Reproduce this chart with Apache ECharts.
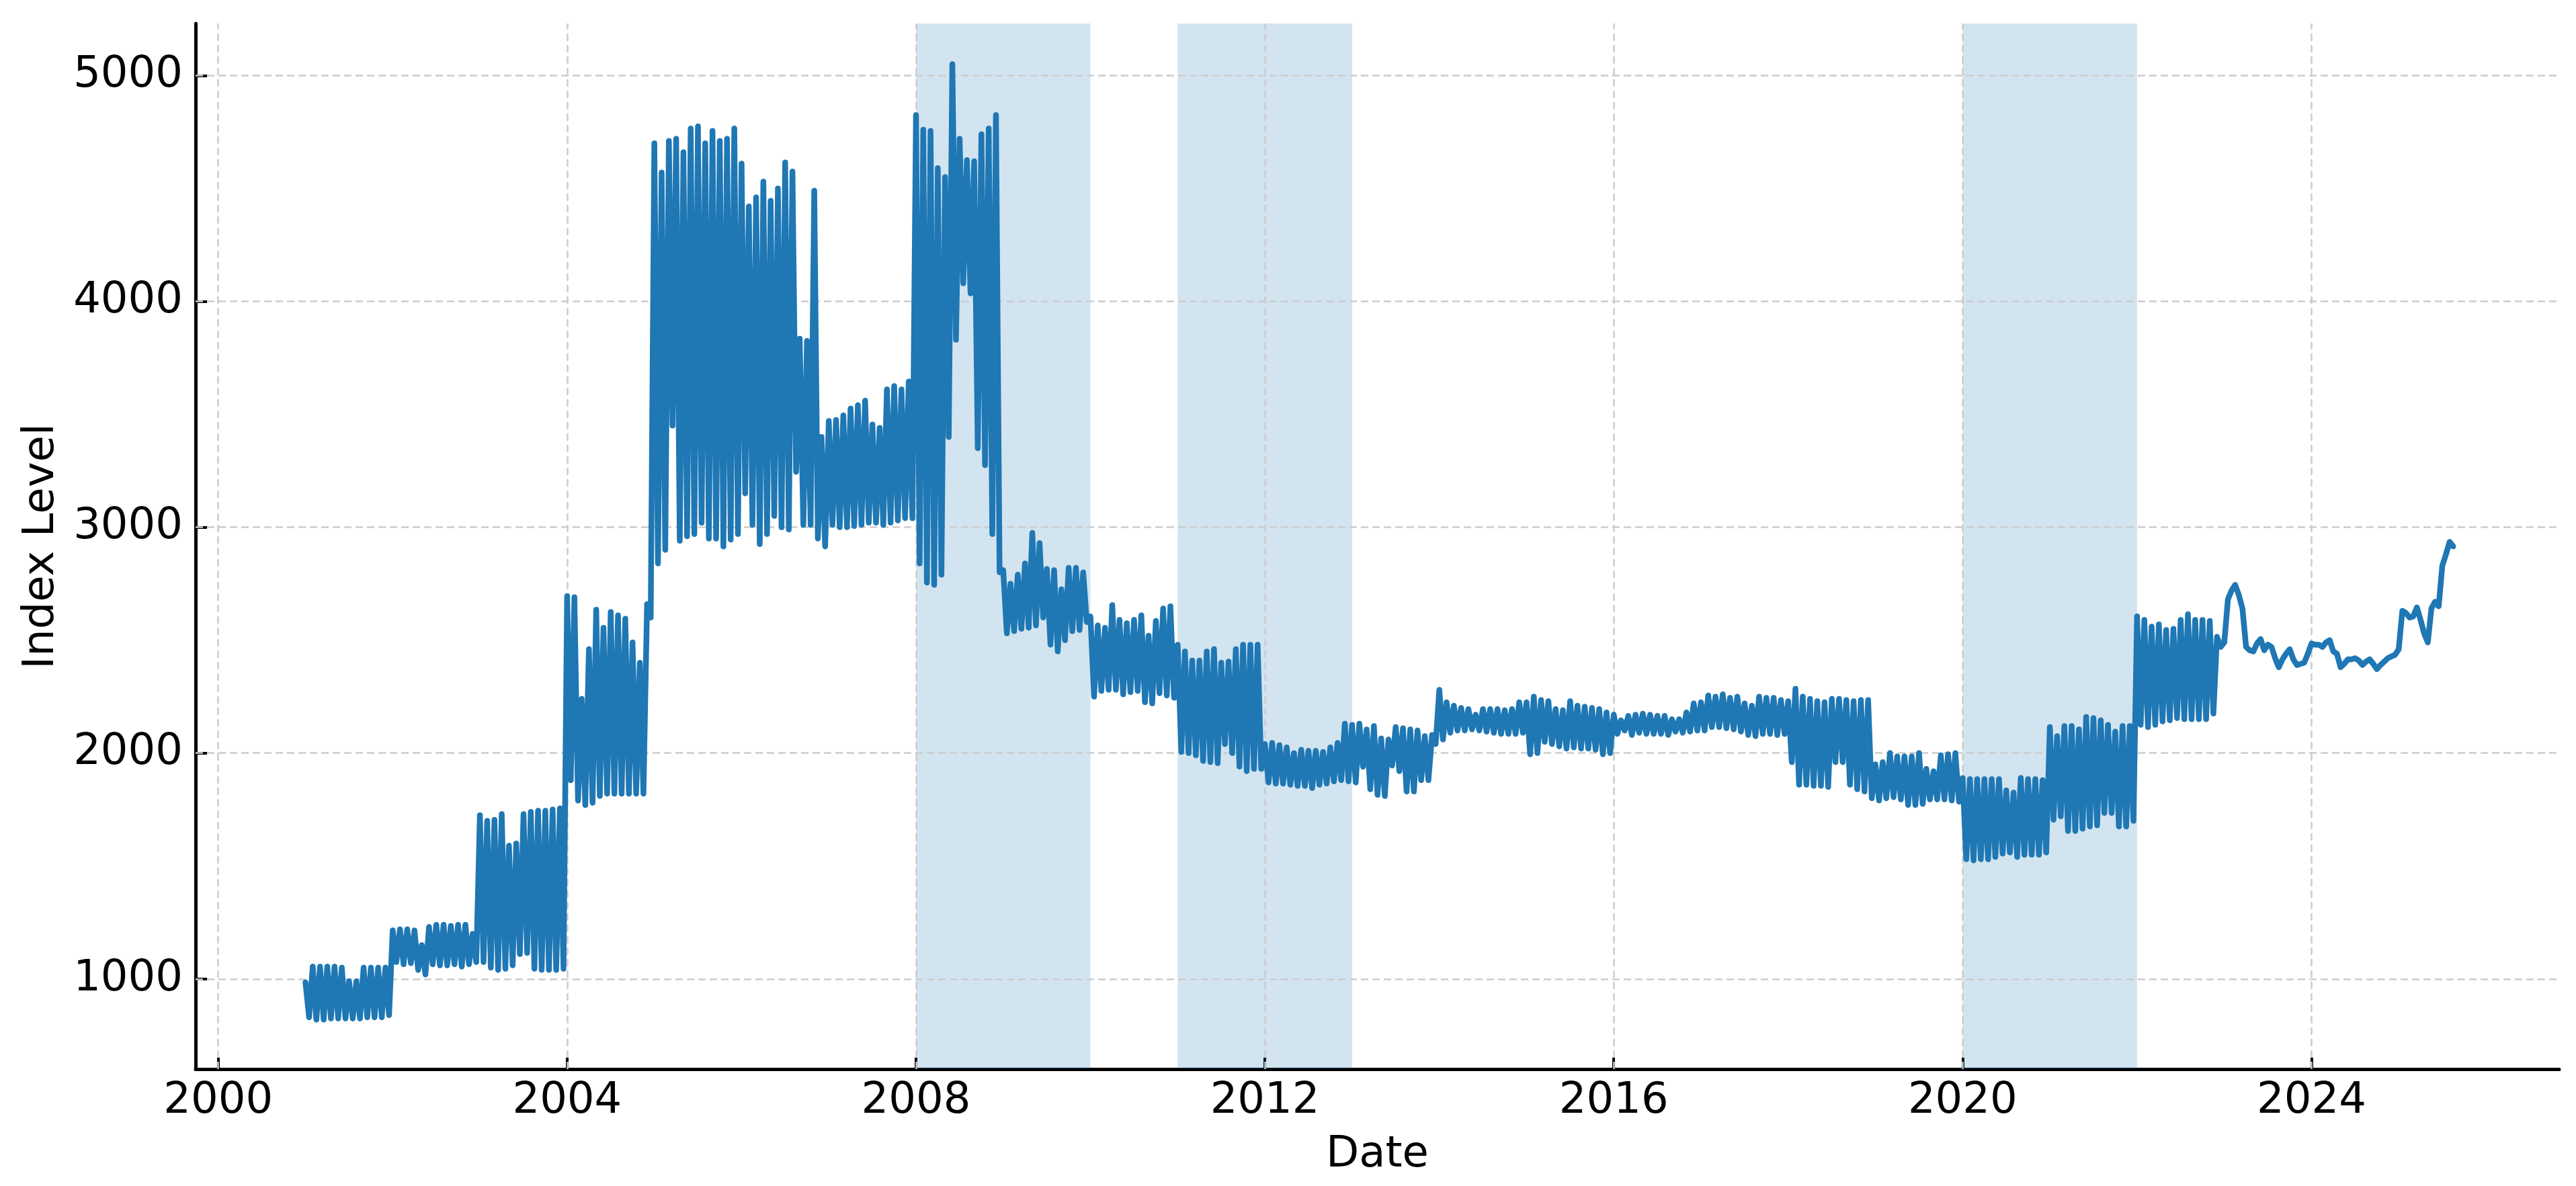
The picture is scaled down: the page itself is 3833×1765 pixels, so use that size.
<!DOCTYPE html>
<html>
<head>
<meta charset="utf-8">
<script src="https://cdn.jsdelivr.net/npm/echarts@6/dist/echarts.min.js"></script>
<style>
html, body { margin: 0; padding: 0; background: #ffffff; }
#chart { width: 3833px; height: 1765px; }
</style>
</head>
<body>
<div id="chart"></div>
<script>
// ---- data ----
const startYear = 2001;             // first month of the oscillating monthly series
// monthly spike (first half of month) values, Jan..Dec per row
const monthlyHigh = [
  985, 1055, 1055, 1055, 1055, 1050, 990, 990, 1050, 1050, 1050, 1050,      // 2001
  1215, 1220, 1220, 1215, 1150, 1230, 1240, 1240, 1235, 1240, 1240, 1200,   // 2002
  1725, 1700, 1705, 1730, 1590, 1600, 1730, 1740, 1745, 1745, 1750, 1755,   // 2003
  2695, 2690, 2240, 2460, 2635, 2555, 2625, 2610, 2595, 2490, 2400, 2660,   // 2004
  4700, 4570, 4710, 4720, 4660, 4765, 4775, 4700, 4755, 4710, 4720, 4765,   // 2005
  4610, 4420, 4460, 4530, 4445, 4500, 4615, 4575, 3835, 3825, 4490, 3400,   // 2006
  3470, 3475, 3495, 3525, 3540, 3560, 3455, 3440, 3610, 3625, 3610, 3645,   // 2007
  4825, 4760, 4755, 4590, 4550, 5050, 4720, 4625, 4620, 4740, 4765, 4825,   // 2008
  2810, 2750, 2790, 2840, 2975, 2930, 2815, 2810, 2725, 2820, 2820, 2800,   // 2009
  2605, 2565, 2555, 2655, 2590, 2575, 2590, 2610, 2520, 2585, 2640, 2650,   // 2010
  2480, 2450, 2410, 2410, 2450, 2460, 2400, 2405, 2460, 2480, 2480, 2480,   // 2011
  2040, 2045, 2035, 2025, 2000, 2015, 2010, 2010, 2005, 2025, 2045, 2130,   // 2012
  2125, 2130, 2105, 2120, 2065, 2060, 2115, 2110, 2105, 2100, 2075, 2080,   // 2013
  2280, 2225, 2210, 2200, 2195, 2170, 2195, 2195, 2195, 2190, 2195, 2225,   // 2014
  2225, 2250, 2235, 2230, 2195, 2190, 2230, 2210, 2205, 2200, 2195, 2180,   // 2015
  2170, 2145, 2165, 2170, 2175, 2170, 2165, 2165, 2150, 2150, 2180, 2220,   // 2016
  2225, 2255, 2250, 2260, 2245, 2250, 2220, 2210, 2250, 2245, 2245, 2235,   // 2017
  2230, 2285, 2250, 2240, 2230, 2225, 2240, 2240, 2235, 2230, 2235, 2235,   // 2018
  1950, 1960, 2000, 1985, 1985, 1985, 2000, 1930, 1920, 1990, 1995, 2000,   // 2019
  1890, 1885, 1885, 1885, 1885, 1885, 1835, 1825, 1890, 1885, 1885, 1880,   // 2020
  2115, 2075, 2120, 2120, 2105, 2160, 2155, 2145, 2125, 2095, 2120, 2120,   // 2021
  2605, 2590, 2560, 2570, 2545, 2550, 2590, 2615, 2590, 2590, 2585, 2515    // 2022
];
// monthly trough (second half of month) values
const monthlyLow = [
  830, 820, 820, 825, 825, 825, 825, 825, 830, 830, 830, 840,               // 2001
  1075, 1065, 1070, 1040, 1020, 1065, 1060, 1060, 1065, 1055, 1065, 1075,   // 2002
  1075, 1050, 1040, 1045, 1060, 1110, 1115, 1045, 1040, 1040, 1040, 1045,   // 2003
  1880, 1790, 1770, 1780, 1810, 1820, 1820, 1820, 1820, 1820, 1820, 2600,   // 2004
  2840, 2900, 3450, 2940, 2960, 2970, 3020, 2950, 2950, 2915, 2945, 2970,   // 2005
  3150, 3010, 2925, 2970, 3050, 3000, 2990, 3245, 3010, 3010, 2950, 2915,   // 2006
  3010, 3000, 3000, 3005, 3010, 3020, 3020, 3010, 3020, 3030, 3040, 3040,   // 2007
  2840, 2755, 2745, 2790, 3400, 3830, 4080, 4035, 3350, 3275, 2970, 2800,   // 2008
  2530, 2540, 2550, 2555, 2565, 2600, 2480, 2450, 2500, 2540, 2545, 2580,   // 2009
  2250, 2275, 2280, 2280, 2260, 2270, 2275, 2225, 2220, 2265, 2255, 2245,   // 2010
  2005, 2000, 1990, 1965, 1960, 1955, 2040, 2000, 1940, 1920, 1930, 1930,   // 2011
  1870, 1865, 1865, 1860, 1855, 1855, 1845, 1860, 1865, 1875, 1880, 1875,   // 2012
  1870, 1940, 1840, 1815, 1810, 1945, 1920, 1830, 1830, 1880, 1880, 2040,   // 2013
  2060, 2090, 2100, 2100, 2105, 2100, 2095, 2090, 2085, 2085, 2085, 2090,   // 2014
  1995, 2000, 2050, 2040, 2030, 2020, 2025, 2020, 2020, 2015, 1995, 2000,   // 2015
  2085, 2100, 2080, 2090, 2085, 2085, 2085, 2080, 2095, 2090, 2095, 2100,   // 2016
  2100, 2115, 2115, 2110, 2105, 2095, 2080, 2075, 2085, 2085, 2080, 2085,   // 2017
  1960, 1860, 1860, 1855, 1855, 1850, 1960, 1960, 1860, 1840, 1830, 1800,   // 2018
  1790, 1800, 1805, 1795, 1770, 1770, 1775, 1795, 1795, 1795, 1790, 1785,   // 2019
  1530, 1525, 1530, 1530, 1540, 1555, 1560, 1540, 1550, 1550, 1550, 1560,   // 2020
  1705, 1720, 1655, 1655, 1665, 1675, 1680, 1735, 1735, 1675, 1675, 1700,   // 2021
  2125, 2115, 2125, 2140, 2145, 2155, 2150, 2150, 2150, 2150, 2175, 2470    // 2022
];
// smoother recent period, two readings per month starting Jan 2023
const recentStart = 2023;
const recentHalfMonthly = [
  2490, 2680, 2720, 2745, 2700, 2640, 2470, 2455, 2450, 2485, 2505, 2455,
  2480, 2470, 2420, 2380, 2415, 2440, 2460, 2415, 2390, 2395, 2400, 2440,   // 2023
  2485, 2480, 2480, 2470, 2490, 2500, 2450, 2440, 2380, 2395, 2415, 2415,
  2420, 2410, 2390, 2405, 2415, 2395, 2372, 2390, 2405, 2420, 2428, 2435,   // 2024
  2460, 2630, 2620, 2600, 2605, 2645, 2590, 2530, 2490, 2640, 2670, 2650,
  2830, 2880, 2935, 2915                                                    // 2025
];
const shadedPeriods = [[2008, 2010], [2011, 2013], [2020, 2022]];
const yearTicks = [2000, 2004, 2008, 2012, 2016, 2020, 2024];
const levelTicks = [1000, 2000, 3000, 4000, 5000];
const xLabel = 'Date';
const yLabel = 'Index Level';

// ---- build series points ----
const points = [];
monthlyHigh.forEach((h, i) => {
  const t = startYear + i / 12;
  points.push([t, h]);
  points.push([t + 0.5 / 12, monthlyLow[i]]);
});
recentHalfMonthly.forEach((v, i) => points.push([recentStart + i / 24, v]));

const font = 'DejaVu Sans';
const chart = echarts.init(document.getElementById('chart'), null, { renderer: 'canvas' });
chart.setOption({
  animation: false,
  backgroundColor: '#ffffff',
  grid: { left: 291, right: 25, top: 35, bottom: 174, containLabel: false },
  xAxis: {
    type: 'value',
    min: 1999.74,
    max: 2026.84,
    name: xLabel,
    nameLocation: 'middle',
    nameGap: 96,
    nameTextStyle: { fontFamily: font, fontSize: 64, color: '#000000' },
    axisLine: { show: true, onZero: false, lineStyle: { color: '#000000', width: 5 } },
    axisTick: { show: true, inside: true, length: 17, customValues: yearTicks, lineStyle: { color: '#000000', width: 4 } },
    axisLabel: { show: true, customValues: yearTicks, margin: 16, fontFamily: font, fontSize: 64, color: '#000000', formatter: v => String(v) },
    splitLine: { show: false }
  },
  yAxis: {
    type: 'value',
    min: 601,
    max: 5230,
    name: yLabel,
    nameLocation: 'middle',
    nameGap: 197,
    nameRotate: 90,
    nameTextStyle: { fontFamily: font, fontSize: 64, color: '#000000' },
    axisLine: { show: true, onZero: false, lineStyle: { color: '#000000', width: 5 } },
    axisTick: { show: true, inside: true, length: 17, customValues: levelTicks, lineStyle: { color: '#000000', width: 4 } },
    axisLabel: { show: true, customValues: levelTicks, margin: 19, fontFamily: font, fontSize: 64, color: '#000000', formatter: v => String(v) },
    splitLine: { show: false }
  },
  series: [{
    type: 'line',
    data: points,
    showSymbol: false,
    symbol: 'none',
    sampling: 'none',
    z: 5,
    lineStyle: { color: '#1f77b4', width: 8.5, join: 'round', cap: 'round' },
    markArea: {
      silent: true,
      z: 1,
      itemStyle: { color: 'rgba(31,119,180,0.2)' },
      data: shadedPeriods.map(p => [{ xAxis: p[0] }, { xAxis: p[1] }])
    },
    markLine: {
      silent: true,
      z: 2,
      symbol: ['none', 'none'],
      label: { show: false },
      lineStyle: { color: '#cccccc', width: 2.5, type: [11, 6] },
      data: yearTicks.map(v => ({ xAxis: v })).concat(levelTicks.map(v => ({ yAxis: v })))
    }
  }]
});
</script>
</body>
</html>
